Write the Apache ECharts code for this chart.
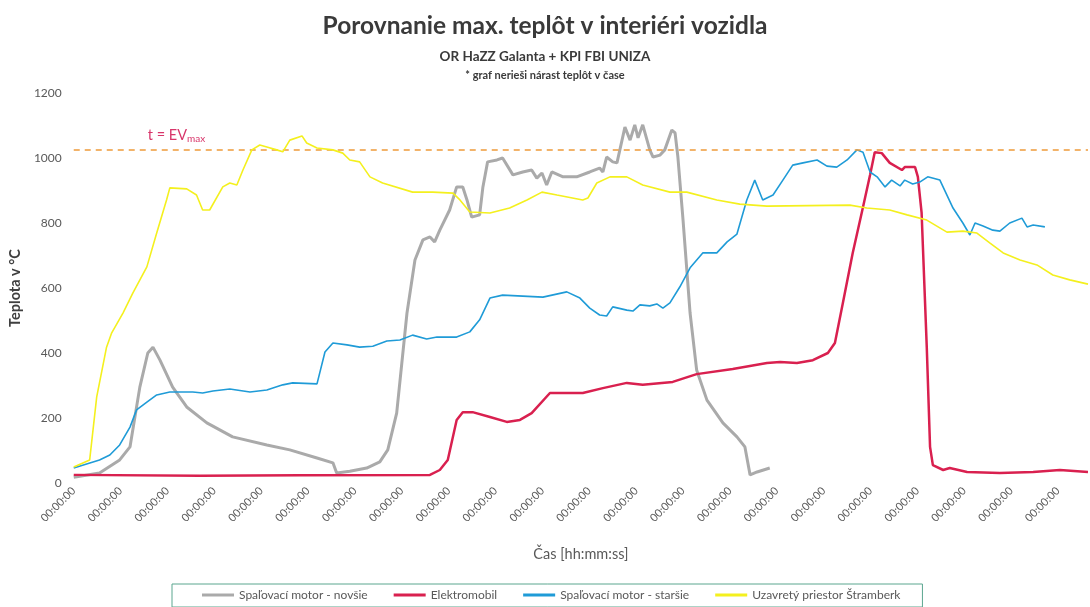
<!DOCTYPE html>
<html>
<head>
<meta charset="utf-8">
<script src="https://cdn.jsdelivr.net/npm/echarts@6/dist/echarts.min.js"></script>
<style>
html,body{margin:0;padding:0;background:#fff;}
#chart{width:1090px;height:607px;}
</style>
</head>
<body>
<div id="chart"></div>
<script>
// ---- data (x = time step index, 10 steps per axis label; y = °C) ----
const xTickLabel = '00:00:00';
const seriesNames = ['Spaľovací motor - novšie', 'Elektromobil', 'Spaľovací motor - staršie', 'Uzavretý priestor Štramberk'];
const evMax = 1025;

const grayT = [0,5.5,9.8,12.0,14.1,15.8,16.9,18.4,21.1,24.1,28.4,33.9,41.2,46.1,51.9,55.3,56.1,58.9,62.5,65.3,67.0,68.9,71.1,72.8,74.5,76.0,77.0,78.1,80.2,81.7,83.0,83.9,84.9,86.6,87.3,88.3,90.3,91.5,93.7,95.8,97.7,98.8,99.9,100.9,102.0,104.4,107.3,110.1,112.2,112.9,113.7,115.0,115.9,117.6,118.7,119.7,120.4,121.4,122.9,123.6,125.1,126.1,127.6,128.3,128.9,130.0,131.5,132.9,135.1,138.5,141.5,143.2,144.3,145.8,148.5];
const grayV = [18,31,71,111,295,400,418,378,295,234,185,142,117,102,77,62,31,36,46,65,102,215,523,686,748,757,742,778,840,911,911,871,818,825,911,988,994,1000,948,957,963,938,954,917,957,942,942,957,969,957,1003,988,985,1095,1055,1102,1062,1102,1025,1003,1009,1025,1086,1077,1003,809,523,348,255,185,142,111,25,34,46];

const redT = [0,26.9,48.2,76.0,78.1,79.8,81.7,83.0,85.1,88.8,92.4,95.2,97.7,101.6,108.6,112.9,118.0,121.4,127.8,132.9,140.6,147.9,150.7,154.3,157.7,160.9,162.4,164.1,166.2,168.4,169.9,170.9,172.4,174.1,176.7,177.3,179.5,180.1,180.9,182.0,182.7,183.3,185.5,186.9,190.6,197.6,204.7,210.4,216.4];
const redV = [25,22,24,25,40,71,194,218,218,203,188,194,215,277,277,292,308,302,311,335,351,369,372,369,378,400,431,554,708,849,948,1018,1015,985,963,972,972,942,831,418,111,55,40,46,34,31,34,40,34];

const blueT = [0,5.5,7.7,9.8,12.0,13.4,15.6,17.7,20.5,25.4,27.5,29.7,33.3,37.6,41.2,44.6,46.7,51.9,53.6,55.3,58.3,61.0,63.8,66.8,69.6,72.3,75.3,77.5,81.7,84.5,86.6,88.8,91.5,95.8,100.1,105.2,108.0,110.1,112.2,113.7,115.0,118.0,119.3,120.8,122.9,124.4,125.7,127.2,129.3,131.5,134.2,137.2,139.4,141.5,143.6,145.3,147.0,149.2,151.3,153.4,155.6,158.6,160.7,162.8,165.0,167.1,168.4,169.9,171.4,173.1,174.5,176.3,177.3,179.0,180.5,182.2,184.8,187.6,189.7,191.2,192.3,194.0,196.1,197.6,199.7,202.3,203.4,204.7,207.2];
const blueV = [46,71,86,117,172,225,249,271,280,280,277,283,289,280,286,302,308,305,403,431,425,418,421,437,440,455,443,449,449,465,502,569,578,575,572,588,569,538,517,514,542,532,529,548,545,551,538,554,603,662,708,708,742,766,871,932,871,886,932,978,985,994,975,972,994,1025,1018,957,942,911,932,914,932,920,926,942,932,846,800,763,800,791,778,775,800,815,788,794,788];

const yellowT = [0,3.4,4.9,7.0,8.1,10.5,12.6,15.6,17.7,19.8,20.5,24.1,26.2,27.5,29.0,31.8,33.3,34.8,36.1,38.0,39.7,41.2,43.3,44.6,46.1,48.7,49.7,51.9,55.3,57.4,58.9,61.0,63.2,65.9,72.3,76.6,80.9,82.4,84.5,88.8,93.0,96.7,99.9,103.1,108.6,109.7,111.6,114.4,118.0,121.4,127.2,130.8,137.2,142.1,147.9,165.6,169.2,174.1,177.8,182.0,186.3,189.7,192.7,195.5,198.3,201.9,205.5,208.9,212.5,216.4];
const yellowV = [49,71,265,418,462,523,584,665,769,871,908,905,886,840,840,911,923,917,963,1025,1040,1034,1025,1019,1055,1068,1046,1031,1025,1015,994,988,942,923,895,895,892,871,834,831,846,871,895,886,871,877,923,942,942,917,895,895,871,858,852,855,846,840,825,809,772,775,769,738,708,686,671,640,625,612];

const colors = ['#aaaaaa', '#d9204f', '#1f9bd7', '#f4f01e'];
const widths = [3, 2.5, 1.6, 1.6];

function zip(t, v){ return t.map((x,i)=>[x, v[i]]); }
const allData = [zip(grayT,grayV), zip(redT,redV), zip(blueT,blueV), zip(yellowT,yellowV)];

const FONT = 'Lato';
const chart = echarts.init(document.getElementById('chart'));
const series = allData.map((d,i)=>({
  name: seriesNames[i],
  type: 'line',
  data: d,
  showSymbol: false,
  symbol: 'none',
  lineStyle: {color: colors[i], width: widths[i]},
  itemStyle: {color: colors[i]},
  z: 2 + i
}));
series[3].markLine = {
  silent: true,
  symbol: ['none','none'],
  lineStyle: {type: [6,5], color: '#ee9a3a', width: 1.5},
  label: {
    position: 'insideStartTop',
    formatter: 't = EV{sub|max}',
    color: '#d8356a',
    fontFamily: FONT,
    fontSize: 14.5,
    padding: [0,0,1,69],
    rich: {sub: {fontSize: 10, color: '#d8356a', fontFamily: FONT, verticalAlign: 'bottom', padding: [7,0,0,0]}}
  },
  data: [{yAxis: evMax}]
};

chart.setOption({
  backgroundColor: '#ffffff',
  animation: false,
  textStyle: {fontFamily: FONT},
  title: [
    {text: 'Porovnanie max. teplôt v interiéri vozidla', left: 'center', top: 9,
     textStyle: {fontSize: 24.5, fontWeight: 'bold', color: '#3a3a3a', fontFamily: FONT}},
    {text: 'OR HaZZ Galanta + KPI FBI UNIZA', left: 'center', top: 45,
     textStyle: {fontSize: 13.5, fontWeight: 'bold', color: '#3a3a3a', fontFamily: FONT}},
    {text: '* graf nerieši nárast teplôt v čase', left: 'center', top: 65,
     textStyle: {fontSize: 11, fontWeight: 'bold', color: '#3a3a3a', fontFamily: FONT}}
  ],
  grid: {left: 72, right: 2, top: 93, bottom: 124, containLabel: false},
  xAxis: {
    type: 'value', min: 0, max: 216.4, interval: 10,
    name: 'Čas [hh:mm:ss]', nameLocation: 'middle', nameGap: 64,
    nameTextStyle: {fontSize: 14.5, color: '#595959', fontFamily: FONT},
    axisLine: {show: false}, axisTick: {show: false}, splitLine: {show: false},
    axisLabel: {
      rotate: 45, fontSize: 11, color: '#595959', margin: 6, showMaxLabel: false,
      formatter: v => (Math.abs(v/10 - Math.round(v/10)) < 1e-6 ? xTickLabel : '')
    }
  },
  yAxis: {
    type: 'value', min: 0, max: 1200, interval: 200,
    name: 'Teplota v °C', nameLocation: 'middle', nameGap: 47, nameRotate: 90,
    nameTextStyle: {fontSize: 14.5, fontWeight: 'bold', color: '#404040', fontFamily: FONT},
    axisLine: {show: false}, axisTick: {show: false}, splitLine: {show: false},
    axisLabel: {fontSize: 12, color: '#595959', margin: 12, formatter: v => String(v)}
  },
  legend: {
    data: seriesNames, left: 172, bottom: 0,
    borderColor: '#5aa68f', borderWidth: 1, padding: [5, 22, 6, 30],
    itemGap: 26, itemWidth: 32, itemHeight: 3, icon: 'rect',
    textStyle: {fontSize: 12, color: '#595959', fontFamily: FONT}
  },
  series: series
});
</script>
</body>
</html>
